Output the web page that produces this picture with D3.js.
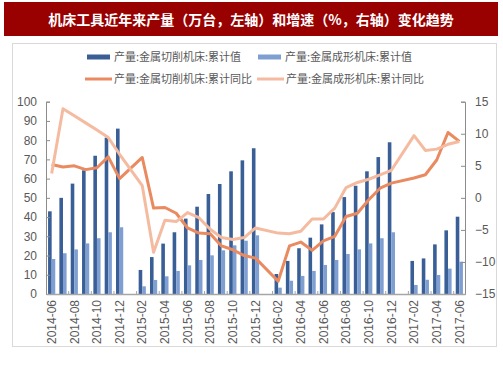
<!DOCTYPE html>
<html>
<head>
<meta charset="utf-8">
<title>机床工具产量和增速</title>
<script src="https://d3js.org/d3.v7.min.js"></script>
<style>
  body { margin: 0; background: #fff; }
  svg { display: block; font-family: "Liberation Sans", Arial, sans-serif; }
  .cjk { font-family: "Noto Sans CJK SC", sans-serif; }
</style>
</head>
<body>
<svg id="chart" width="503" height="378"></svg>
<script>
// months (categories)
const months = [
  "2014-06","2014-07","2014-08","2014-09","2014-10","2014-11","2014-12",
  "2015-01","2015-02","2015-03","2015-04","2015-05","2015-06","2015-07","2015-08","2015-09","2015-10","2015-11","2015-12",
  "2016-01","2016-02","2016-03","2016-04","2016-05","2016-06","2016-07","2016-08","2016-09","2016-10","2016-11","2016-12",
  "2017-01","2017-02","2017-03","2017-04","2017-05","2017-06"
];
const tickMonths = months.filter((m, i) => i % 2 === 0);

// 产量:金属切削机床:累计值 (万台)
const cutting = [43,50,57.4,64.3,71.9,81.3,86, null,12.5,19.2,26.2,32.1,39.2,45.4,52,57.2,63.8,69.5,75.8,
  null,10.4,17.2,23.8,29.3,36.2,42.6,50.4,56.3,63.8,71.2,78.9, null,17.2,18.5,25.8,33.1,40.2];
// 产量:金属成形机床:累计值 (万台)
const forming = [18.2,21.2,23.2,26.3,29,32.1,34.7, null,4,7.3,9.2,12,14.9,17.7,20.1,22.7,25.3,27.7,30.5,
  null,3.3,6.9,9.4,12,15.1,17.7,20.8,23.2,26.3,29,32.1, null,4.7,7.4,9.9,13.2,16.8];
// 产量:金属切削机床:累计同比 (%)
const cuttingYoY = [5.2,4.8,5.0,4.4,4.7,6.4,3.0, null,6.3,-1.6,-1.5,-2.4,-4.7,-5.5,-5.6,-7.5,-8.1,-9.0,-9.4,
  null,-13,-7.5,-6.9,-8.2,-6.7,-6.0,-2.9,-2.4,-0.3,1.5,2.3, null,3.1,3.6,5.9,10.2,8.8];
// 产量:金属成形机床:累计同比 (%)
const formingYoY = [3.8,13.9,12.8,11.7,10.6,9.4,6.8, null,1.9,-8.5,-3.5,-3.7,-2.3,-3.1,-4.9,-6.2,-6.5,-6.2,-4.7,
  null,-5.5,-5.6,-5.2,-3.3,-3.3,-1.6,1.6,2.4,2.9,3.6,4.3, null,9.7,7.4,7.6,8.35,8.8];

const leftTicks = d3.range(0, 101, 10);
const rightTicks = d3.range(-15, 16, 5);

const seriesNames = ["产量:金属切削机床:累计值", "产量:金属成形机床:累计值",
                     "产量:金属切削机床:累计同比", "产量:金属成形机床:累计同比"];
const colors = ["#3a5f96", "#7f9fd2", "#ea8a60", "#f5bba0"];

const svg = d3.select("#chart");
const grey = "#595959";

// title bar
svg.append("rect").attr("x", 4).attr("y", 2).attr("width", 494).attr("height", 34).attr("fill", "#990000");
svg.append("text").attr("class", "cjk")
  .attr("x", 251).attr("y", 24.5).attr("text-anchor", "middle")
  .attr("fill", "#fff").attr("font-size", 14).attr("font-weight", "bold")
  .text("机床工具近年来产量（万台，左轴）和增速（%，右轴）变化趋势");

// chart frame
svg.append("rect").attr("x", 12.5).attr("y", 43.5).attr("width", 484).attr("height", 303)
  .attr("fill", "none").attr("stroke", "#d9d9d9");

// legend
const legendPos = [[87, 57], [258, 57], [85, 79], [257, 79]];
seriesNames.forEach((name, i) => {
  const [lx, ly] = legendPos[i];
  const g = svg.append("g").attr("transform", `translate(${lx},${ly})`);
  if (i < 2) {
    g.append("rect").attr("x", 0).attr("y", -2.5).attr("width", 23).attr("height", 5).attr("fill", colors[i]);
  } else {
    g.append("line").attr("x1", 0).attr("x2", 27).attr("stroke", colors[i]).attr("stroke-width", 3);
  }
  g.append("text").attr("class", "cjk").attr("x", i < 2 ? 27 : 29).attr("y", 4)
    .attr("font-size", 11).attr("fill", grey).text(name);
});

// scales
const plotL = 46, plotR = 465, plotT = 101.7, plotB = 294;
const x = d3.scaleBand().domain(months).range([plotL, plotR]).padding(0);
const yL = d3.scaleLinear().domain([0, 100]).range([plotB, plotT]);
const yR = d3.scaleLinear().domain([-15, 15]).range([plotB, plotT]);
const bw = x.bandwidth();
const x1 = d3.scaleBand().domain([0, 1]).range([bw / 2 - 3.6, bw / 2 + 3.6]).padding(0);

// bars
[cutting, forming].forEach((vals, s) => {
  svg.append("g").selectAll("rect")
    .data(months.map((m, i) => ({ m, v: vals[i] })).filter(d => d.v != null))
    .join("rect")
    .attr("x", d => x(d.m) + x1(s))
    .attr("y", d => yL(d.v))
    .attr("width", x1.bandwidth())
    .attr("height", d => plotB - yL(d.v))
    .attr("fill", colors[s]);
});

// left axis
const axL = svg.append("g").attr("transform", `translate(${plotL},0)`)
  .call(d3.axisLeft(yL).tickValues(leftTicks).tickSize(-4).tickPadding(9));
// right axis
const axR = svg.append("g").attr("transform", `translate(${plotR},0)`)
  .call(d3.axisRight(yR).tickValues(rightTicks).tickSize(-4).tickPadding(10));
[axL, axR].forEach(ax => {
  ax.select(".domain").attr("stroke", "#8c8c8c");
  ax.selectAll(".tick line").attr("stroke", "#8c8c8c");
  ax.selectAll(".tick text").attr("fill", grey).attr("font-size", 12)
    .attr("font-family", "'Liberation Sans', Arial, sans-serif");
});

// x axis
const axX = svg.append("g").attr("transform", `translate(0,${plotB})`)
  .call(d3.axisBottom(x).tickValues(tickMonths).tickSize(0).tickPadding(0));
axX.select(".domain").attr("stroke", "#a6a6a6").attr("stroke-width", 1.5);
axX.selectAll(".tick text")
  .attr("fill", grey).attr("font-size", 12)
  .attr("font-family", "'Liberation Sans', Arial, sans-serif")
  .attr("transform", "rotate(-90)")
  .attr("text-anchor", "end")
  .attr("x", -6).attr("y", 0).attr("dy", "0.35em");
// small ticks between every two months
svg.append("g").selectAll("line")
  .data(months.filter((m, i) => i % 2 === 1))
  .join("line")
  .attr("x1", d => x(d) + bw).attr("x2", d => x(d) + bw)
  .attr("y1", plotB).attr("y2", plotB - 3)
  .attr("stroke", "#a6a6a6");

// lines
const line = d3.line().x(d => x(d.m) + bw / 2).y(d => yR(d.v));
[cuttingYoY, formingYoY].forEach((vals, s) => {
  svg.append("path")
    .datum(months.map((m, i) => ({ m, v: vals[i] })).filter(d => d.v != null))
    .attr("d", line)
    .attr("fill", "none")
    .attr("stroke", colors[s + 2])
    .attr("stroke-width", 3)
    .attr("stroke-linejoin", "round");
});
</script>
</body>
</html>
